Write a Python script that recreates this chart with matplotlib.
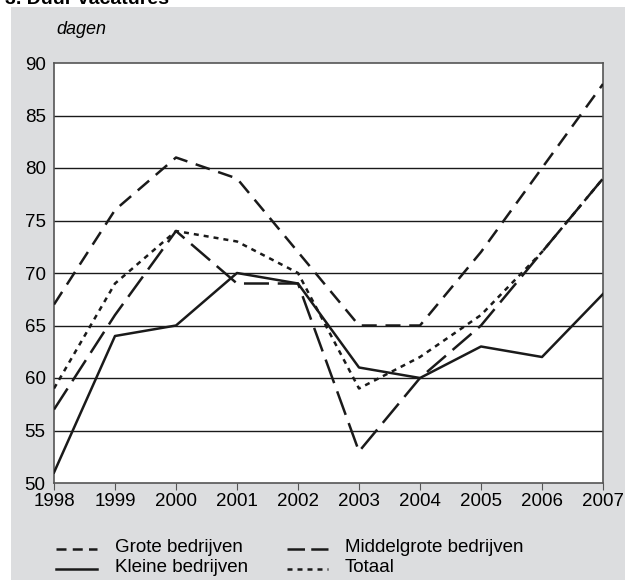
import matplotlib
matplotlib.use("Agg")
import matplotlib.pyplot as plt
from matplotlib.lines import Line2D

years = [1998, 1999, 2000, 2001, 2002, 2003, 2004, 2005, 2006, 2007]
grote = [67, 76, 81, 79, 72, 65, 65, 72, 80, 88]
middelgrote = [57, 66, 74, 69, 69, 53, 60, 65, 72, 79]
kleine = [51, 64, 65, 70, 69, 61, 60, 63, 62, 68]
totaal = [59, 69, 74, 73, 70, 59, 62, 66, 72, 79]
yticks = [50, 55, 60, 65, 70, 75, 80, 85, 90]

plt.rcParams['font.family'] = ['Liberation Sans', 'DejaVu Sans']

W, H = 625, 580
fig = plt.figure(figsize=(W/100, H/100), dpi=100)
fig.patch.set_facecolor('white')

# grey panel as background axes
bg = fig.add_axes([11/W, 0, 1 - 11/W, 1 - 7/H], zorder=-5)
bg.set_facecolor('#dcdddf')
bg.set_xticks([]); bg.set_yticks([])
for s in bg.spines.values():
    s.set_visible(False)

fig.text(5/W, 1 + 1/H, "3. Duur vacatures", fontsize=14, fontweight='bold', va='center', ha='left')

ax = fig.add_axes([54/W, 1 - 483/H, (603-54)/W, (483-63)/H], zorder=1)
ax.set_facecolor('white')
ax.set_xlim(1998, 2007)
ax.set_ylim(50, 90)
ax.set_yticks(yticks)
ax.set_xticks(years)
for y in yticks[1:-1]:
    ax.axhline(y, color='#1a1a1a', lw=1.0, zorder=1)

for s in ax.spines.values():
    s.set_color('#555555')
    s.set_linewidth(1.2)

ax.tick_params(axis='y', length=0, pad=6, labelsize=13.5)
ax.tick_params(axis='x', length=5, width=0.8, color='#555555', pad=2.5, labelsize=13.5, direction='out')

lw = 1.8
ax.plot(years, grote, color='#1a1a1a', lw=lw, ls=(0, (6, 3.5)), zorder=3)
ax.plot(years, middelgrote, color='#1a1a1a', lw=lw, ls=(0, (10, 3.5)), zorder=3)
ax.plot(years, kleine, color='#1a1a1a', lw=lw, ls='-', zorder=3)
ax.plot(years, totaal, color='#1a1a1a', lw=lw, ls=(0, (2, 2)), zorder=3)

fig.text(56/W, 1 - 30/H, "dagen", fontsize=13, style='italic', va='center', ha='left')

# legend
def handle(x0, x1, y, ls):
    ln = Line2D([x0/W, x1/W], [1 - y/H, 1 - y/H], transform=fig.transFigure,
                color='#1a1a1a', lw=lw, ls=ls)
    fig.lines.append(ln)

handle(56, 97, 549, (0, (4, 2.5)))
handle(287, 328, 549, (0, (7, 2.5)))
handle(56, 97, 569, '-')
handle(287, 328, 569, (0, (2, 2)))
fs = 13.5
fig.text(115/W, 1 - 547/H, "Grote bedrijven", fontsize=fs, va='center')
fig.text(115/W, 1 - 567/H, "Kleine bedrijven", fontsize=fs, va='center')
fig.text(345/W, 1 - 547/H, "Middelgrote bedrijven", fontsize=fs, va='center')
fig.text(345/W, 1 - 567/H, "Totaal", fontsize=fs, va='center')

fig.savefig("out.png", dpi=100, facecolor=fig.get_facecolor())
